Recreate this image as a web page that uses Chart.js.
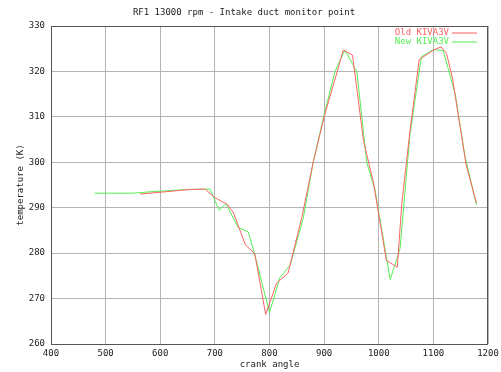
<!DOCTYPE html>
<html>
<head>
<meta charset="utf-8">
<script src="https://cdn.jsdelivr.net/npm/chart.js@4/dist/chart.umd.min.js"></script>
<style>
  html, body { margin:0; padding:0; background:#fff; }
  #wrap { width:501px; height:372px; }
</style>
</head>
<body>
<div id="wrap"><canvas id="chartTemp" width="501" height="372"></canvas></div>
<script>
// ── Data (crank angle / temperature K) ──
const oldAngle = [563, 654, 682, 700, 722, 734, 756, 773, 793, 813, 834, 859, 880, 900, 924, 935, 952, 972, 990, 1014, 1034, 1042, 1057, 1074, 1100, 1114, 1124, 1135, 1160, 1179];
const oldTemp  = [293.0, 294.0, 294.1, 292.2, 290.8, 288.9, 281.8, 279.9, 266.5, 273.4, 275.6, 287.8, 300.0, 310.0, 320.0, 324.7, 323.6, 304.8, 295.7, 278.4, 276.9, 290.7, 306.7, 322.6, 324.7, 325.4, 324.0, 318.5, 299.4, 291.0];

const newAngle = [480, 550, 581, 648, 691, 708, 720, 743, 761, 773, 800, 819, 838, 862, 880, 900, 920, 938, 960, 978, 993, 1021, 1039, 1057, 1078, 1100, 1118, 1140, 1158, 1179];
const newTemp  = [293.2, 293.2, 293.5, 294.0, 294.1, 289.4, 290.9, 285.6, 284.7, 279.7, 266.9, 274.6, 277.4, 287.8, 300.0, 310.5, 320.0, 324.7, 319.9, 300.0, 294.0, 274.2, 281.0, 306.0, 323.2, 324.8, 324.6, 315.0, 301.2, 290.6];

const seriesLabels = ['Old KIVA3V', 'New KIVA3V'];
const seriesColors = ['#ff6464', '#55ee55'];

const xTicks = [400, 500, 600, 700, 800, 900, 1000, 1100, 1200];
const yTicks = [260, 270, 280, 290, 300, 310, 320, 330];

const MONO = "'DejaVu Sans Mono', monospace";

const toPts = (xs, ys) => xs.map((x, i) => ({ x, y: ys[i] }));

// ── Legend drawn inside the plot, gnuplot style ──
const insideLegend = {
  id: 'insideLegend',
  afterDatasetsDraw(chart) {
    const ctx = chart.ctx;
    const right = chart.chartArea.right;
    ctx.save();
    ctx.font = '9px ' + MONO;
    ctx.textAlign = 'right';
    ctx.textBaseline = 'middle';
    chart.data.datasets.forEach((ds, i) => {
      const y = 32.5 + i * 9;
      ctx.fillStyle = ds.borderColor;
      ctx.fillText(ds.label, right - 39, y);
      ctx.strokeStyle = ds.borderColor;
      ctx.lineWidth = 1;
      ctx.beginPath();
      ctx.moveTo(right - 36, y + 0.5);
      ctx.lineTo(right - 11, y + 0.5);
      ctx.stroke();
    });
    ctx.restore();
  }
};

// ── Plot border ──
const plotBorder = {
  id: 'plotBorder',
  afterDatasetsDraw(chart) {
    const a = chart.chartArea, ctx = chart.ctx;
    ctx.save();
    ctx.strokeStyle = '#555';
    ctx.lineWidth = 1;
    ctx.strokeRect(Math.round(a.left) + 0.5, Math.round(a.top) + 0.5,
                   Math.round(a.right - a.left) - 1, Math.round(a.bottom - a.top));
    ctx.restore();
  }
};

const lineDs = (label, data, color) => ({
  label, data,
  borderColor: color,
  backgroundColor: color,
  borderWidth: 1,
  showLine: true,
  pointRadius: 0,
  tension: 0,
  fill: false
});

new Chart(document.getElementById('chartTemp').getContext('2d'), {
  type: 'scatter',
  data: {
    datasets: [
      lineDs(seriesLabels[0], toPts(oldAngle, oldTemp), seriesColors[0]),
      lineDs(seriesLabels[1], toPts(newAngle, newTemp), seriesColors[1])
    ]
  },
  options: {
    responsive: false,
    animation: false,
    layout: { padding: { left: 0, right: 13, top: 0, bottom: 0 } },
    plugins: {
      legend: { display: false },
      tooltip: { enabled: false },
      title: {
        display: true,
        text: 'RF1 13000 rpm - Intake duct monitor point',
        color: '#222',
        font: { family: MONO, size: 9, weight: 'normal', lineHeight: 1.2 },
        padding: { top: 7, bottom: 8.2 }
      }
    },
    scales: {
      x: {
        type: 'linear',
        min: 400, max: 1200,
        afterBuildTicks: s => { s.ticks = xTicks.map(v => ({ value: v })); },
        afterFit: s => { s.height = 28; s.paddingLeft = 0; s.paddingRight = 0; },
        grid: { color: '#b4b4b4', lineWidth: 1, drawTicks: false },
        border: { display: false },
        ticks: { color: '#222', padding: 4, font: { family: MONO, size: 9 }, maxRotation: 0,
                 callback: v => String(v) },
        title: { display: true, text: 'crank angle', color: '#222', padding: { top: 0, bottom: 2 }, font: { family: MONO, size: 9 } }
      },
      y: {
        min: 260, max: 330,
        afterBuildTicks: s => { s.ticks = yTicks.map(v => ({ value: v })); },
        afterFit: s => { s.width = 51; s.paddingTop = 0; s.paddingBottom = 0; },
        grid: { color: '#b4b4b4', lineWidth: 1, drawTicks: false },
        border: { display: false },
        ticks: { color: '#222', padding: 6, font: { family: MONO, size: 9 }, callback: v => String(v) },
        title: { display: true, text: 'temperature (K)', color: '#222', padding: { top: 15, bottom: 0 }, font: { family: MONO, size: 9 } }
      }
    }
  },
  plugins: [plotBorder, insideLegend]
});
</script>
</body>
</html>
